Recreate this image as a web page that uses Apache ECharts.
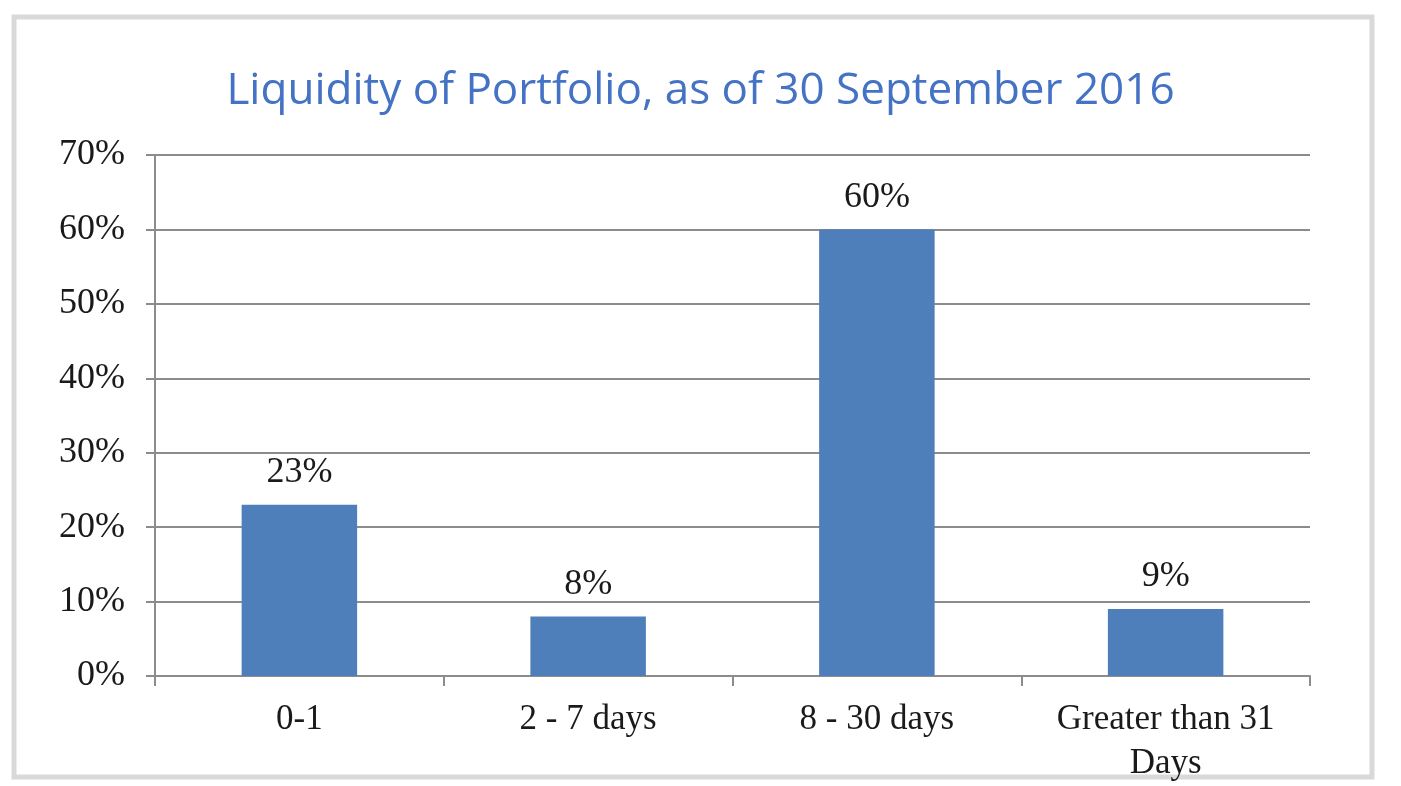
<!DOCTYPE html>
<html lang="en">
<head>
  <meta charset="utf-8"/>
  <title>Liquidity of Portfolio</title>
  <script src="https://cdn.jsdelivr.net/npm/echarts@6/dist/echarts.min.js"></script>
  <style>
    html, body { margin: 0; padding: 0; background: #fff; }
    #chart { width: 1401px; height: 786px; }
  </style>
</head>
<body>
<div id="chart"></div>
<script>
  // data
  var titleText = 'Liquidity of Portfolio, as of 30 September 2016';
  var categories = ['0-1', '2 - 7 days', '8 - 30 days', 'Greater than 31\nDays'];
  var shares = [23, 8, 60, 9];   // percent
  var yTicks = [0, 10, 20, 30, 40, 50, 60, 70];

  var serif = '"Liberation Serif", "Times New Roman", serif';
  var axisGrey = '#8c8c8c';

  var myChart = echarts.init(document.getElementById('chart'));
  myChart.setOption({
    backgroundColor: '#fff',
    animation: false,
    graphic: [{
      type: 'rect',
      shape: { x: 14, y: 17, width: 1358, height: 760 },
      style: { fill: 'none', stroke: '#d9d9d9', lineWidth: 5 }
    }],
    title: {
      text: titleText,
      left: 'center',
      top: 64,
      textStyle: {
        color: '#4472c4',
        fontFamily: '"Open Sans", sans-serif',
        fontWeight: 'normal',
        fontSize: 44
      }
    },
    grid: { left: 155, right: 91, top: 155, bottom: 109 },
    xAxis: {
      type: 'category',
      data: categories,
      axisLine: { lineStyle: { color: axisGrey, width: 2 } },
      axisTick: { show: true, length: 10, alignWithLabel: false, lineStyle: { color: axisGrey, width: 2 } },
      axisLabel: {
        color: '#1a1a1a',
        fontFamily: serif,
        fontSize: 35,
        lineHeight: 44,
        margin: 22,
        interval: 0
      }
    },
    yAxis: {
      type: 'value',
      min: yTicks[0],
      max: yTicks[yTicks.length - 1],
      interval: 10,
      axisLine: { show: true, lineStyle: { color: axisGrey, width: 2 } },
      axisTick: { show: true, length: 9, lineStyle: { color: axisGrey, width: 2 } },
      splitLine: { lineStyle: { color: axisGrey, width: 2 } },
      axisLabel: {
        color: '#1a1a1a',
        fontFamily: serif,
        fontSize: 36,
        margin: 30,
        formatter: '{value}%'
      }
    },
    series: [{
      type: 'bar',
      data: shares,
      barWidth: '40%',
      itemStyle: { color: '#4f7fbb' },
      label: {
        show: true,
        position: 'top',
        distance: 14,
        color: '#1a1a1a',
        fontFamily: serif,
        fontSize: 36,
        formatter: '{c}%'
      }
    }]
  });
</script>
</body>
</html>
